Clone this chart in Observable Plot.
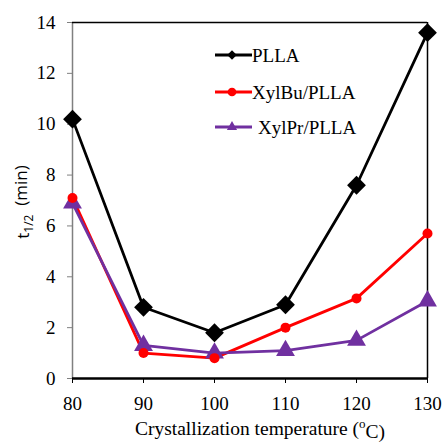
<!DOCTYPE html>
<html><head><meta charset="utf-8">
<script src="https://cdn.jsdelivr.net/npm/d3@7"></script>
<script src="https://cdn.jsdelivr.net/npm/@observablehq/plot@0.6"></script>
<style>body{margin:0;background:#fff}</style>
</head><body><div id="chart"></div>
<script>
const temps = [80, 90, 100, 110, 120, 130];
const plla = [10.2, 2.8, 1.8, 2.9, 7.6, 13.6];
const xylbu = [7.1, 1.0, 0.8, 2.0, 3.15, 5.7];
const xylpr = [6.9, 1.3, 1.0, 1.1, 1.5, 3.05];
const seriesNames = ["PLLA", "XylBu/PLLA", "XylPr/PLLA"];
const colors = ["#000000", "#ff0000", "#7030a0"];
const xTicks = [80, 90, 100, 110, 120, 130];
const yTicks = [0, 2, 4, 6, 8, 10, 12, 14];

const vals = [plla, xylbu, xylpr];
const data = [];
seriesNames.forEach((s, i) => temps.forEach((t, j) => data.push({series: s, t, v: vals[i][j], idx: i})));

const serif = "Liberation Serif";
const W = 443, H = 443;
const plot = Plot.plot({
  width: W, height: H,
  marginLeft: 72, marginRight: 16, marginTop: 22, marginBottom: 65,
  style: {fontFamily: serif, fontSize: "19px", background: "#fff", overflow: "visible"},
  x: {domain: [80, 130], ticks: xTicks, label: null},
  y: {domain: [0, 14], ticks: yTicks, label: null},
  marks: [
    Plot.axisY({ticks: yTicks, tickSize: 5, tickPadding: 12, stroke: "#808080", fill: "#000", fontSize: 19, fontFamily: serif, label: null}),
    Plot.axisX({ticks: xTicks, tickSize: 5, tickPadding: 13, stroke: "#000", fill: "#000", fontSize: 19, fontFamily: serif, label: null}),
    Plot.ruleX([80], {stroke: "#808080", strokeWidth: 1.5}),
    Plot.ruleX([130], {stroke: "#000", strokeWidth: 1.5}),
    Plot.ruleY([14], {stroke: "#000", strokeWidth: 1.5}),
    Plot.ruleY([0], {stroke: "#000", strokeWidth: 2.5}),
    Plot.line(data, {x: "t", y: "v", z: "series", stroke: d => colors[d.idx], strokeWidth: 2.8}),
    Plot.dot(data.filter(d => d.idx === 2), {x: "t", y: "v", symbol: "triangle", r: 7, fill: colors[2], stroke: null}),
    Plot.dot(data.filter(d => d.idx === 1), {x: "t", y: "v", symbol: "circle", r: 5, fill: colors[1], stroke: null}),
    Plot.dot(data.filter(d => d.idx === 0), {x: "t", y: "v", symbol: "square", rotate: 45, r: 7.5, fill: colors[0], stroke: null})
  ]
});
document.getElementById("chart").appendChild(plot);

const svg = d3.select(plot);
// legend
const legYs = [55, 92, 127];
const lg = svg.append("g").attr("text-anchor", "start");
seriesNames.forEach((s, i) => {
  const y = legYs[i];
  lg.append("line").attr("x1", 215).attr("x2", 252).attr("y1", y).attr("y2", y)
    .attr("stroke", colors[i]).attr("stroke-width", 2.8);
  lg.append("path").attr("transform", `translate(232,${y})` + (i === 0 ? " rotate(45)" : ""))
    .attr("d", d3.symbol(i === 0 ? d3.symbolSquare : i === 1 ? d3.symbolCircle : d3.symbolTriangle, i === 1 ? 60 : 45)())
    .attr("fill", colors[i]);
  lg.append("text").attr("x", i === 2 ? 258 : 252).attr("y", y).attr("dy", "0.35em")
    .attr("text-anchor", "start")
    .attr("font-family", serif).attr("font-size", 19).attr("fill", "#000").text(s);
});
// x label
const xl = svg.append("text").attr("x", 260).attr("y", 428).attr("dy", "0.35em")
  .attr("text-anchor", "middle").attr("font-family", serif).attr("font-size", 19.5).attr("fill", "#000");
xl.append("tspan").text("Crystallization temperature (");
xl.append("tspan").attr("font-size", 13).attr("dy", "-0.55em").text("o");
xl.append("tspan").attr("dy", "0.55em").text("C)");
// y label
const yl = svg.append("text").attr("transform", "translate(29,202) rotate(-90)")
  .attr("text-anchor", "middle").attr("font-family", "'Open Sans', 'Noto Sans', sans-serif")
  .attr("font-size", 17).attr("fill", "#000");
yl.append("tspan").text("t");
yl.append("tspan").attr("font-size", 12).attr("dy", "0.35em").text("1/2");
yl.append("tspan").attr("dy", "-0.35em").text("\u00a0 (min)");
</script></body></html>
